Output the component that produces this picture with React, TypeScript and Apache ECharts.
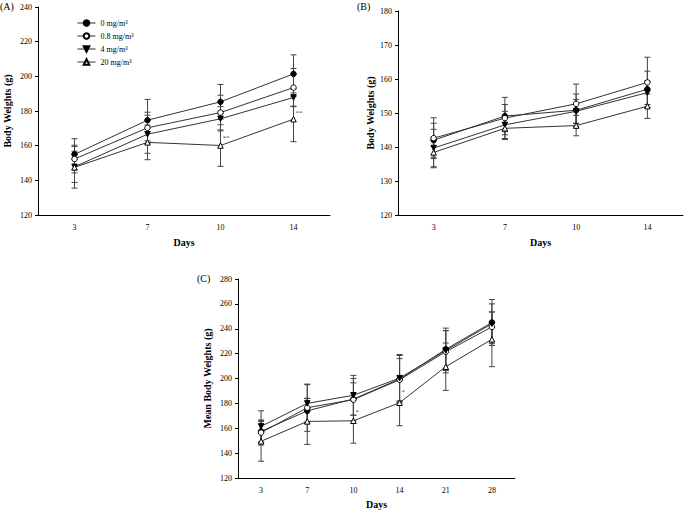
import React, { useEffect, useRef } from "react";
import * as echarts from "echarts";

const daysAB = ["3", "7", "10", "14"];
const daysC = ["3", "7", "10", "14", "21", "28"];
const seriesNames = ["0 mg/m³", "0.8 mg/m³", "4 mg/m³", "20 mg/m³"];

// Panel A
const aMean0 = [155, 174.7, 185.3, 201.4];
const aMean08 = [152.3, 170.3, 179.1, 193.5];
const aMean4 = [147.8, 166.6, 175.5, 187.8];
const aMean20 = [147.5, 161.9, 160.1, 175.3];
const aSd0 = [9, 12, 10, 11];
const aSd08 = [8, 9, 10, 11];
const aSd4 = [9, 11, 7, 5];
const aSd20 = [12, 10, 12, 13];
const annA = [[2, 164.5], [3, 179]];

// Panel B
const bMean0 = [142.0, 149.1, 150.8, 157.0];
const bMean08 = [142.6, 148.5, 152.7, 159.0];
const bMean4 = [139.7, 146.5, 150.5, 156.0];
const bMean20 = [138.4, 145.5, 146.3, 152.0];
const bSd0 = [5, 5.5, 4.8, 5.3];
const bSd08 = [6, 4, 5.8, 7.4];
const bSd4 = [5.5, 4, 3.5, 3.5];
const bSd20 = [4.5, 3.3, 3, 3.6];

// Panel C
const cMean0 = [157.5, 174, 183.5, 199.5, 223.5, 245];
const cMean08 = [156.5, 176.5, 183, 199, 221.5, 241.5];
const cMean4 = [161.5, 180, 186.5, 200.3, 222.5, 244];
const cMean20 = [149.5, 165.5, 166, 180.5, 209.5, 231.5];
const cSd0 = [9, 10, 13, 19, 17, 18.5];
const cSd08 = [10, 19, 17, 17, 17, 12];
const cSd4 = [12.5, 15, 16, 19, 16, 16];
const cSd20 = [16, 18.5, 18, 18.5, 19, 22];
const annC = [[2, 173], [3, 189]];

const FONT = "'Liberation Serif', 'Times New Roman', serif";

const markerStyles = [
  { symbol: "circle", rotate: 0, fill: "#000" },
  { symbol: "circle", rotate: 0, fill: "#fff" },
  { symbol: "triangle", rotate: 180, fill: "#000" },
  { symbol: "triangle", rotate: 0, fill: "#fff" },
];

function errRender(params: any, api: any) {
  const x = api.value(0);
  const lo = api.coord([x, api.value(1)]);
  const hi = api.coord([x, api.value(2)]);
  const w = 3;
  const style = { stroke: "#444", lineWidth: 1 };
  return {
    type: "group",
    children: [
      { type: "line", shape: { x1: lo[0], y1: lo[1], x2: hi[0], y2: hi[1] }, style },
      { type: "line", shape: { x1: lo[0] - w, y1: lo[1], x2: lo[0] + w, y2: lo[1] }, style },
      { type: "line", shape: { x1: hi[0] - w, y1: hi[1], x2: hi[0] + w, y2: hi[1] }, style },
    ],
  };
}

function panelSeries(idx: number, means: number[][], sds: number[][], ann: number[][] | null, annText: string) {
  const out: any[] = [];
  means.forEach((m, k) => {
    out.push({
      type: "custom",
      xAxisIndex: idx,
      yAxisIndex: idx,
      renderItem: errRender,
      encode: { x: 0, y: [1, 2] },
      data: m.map((v, i) => [i, v - sds[k][i], v + sds[k][i]]),
      z: 1,
    });
  });
  means.forEach((m, k) => {
    const ms = markerStyles[k];
    out.push({
      type: "line",
      name: seriesNames[k],
      xAxisIndex: idx,
      yAxisIndex: idx,
      data: m,
      symbol: ms.symbol,
      symbolRotate: ms.rotate,
      symbolSize: 5.5,
      showSymbol: true,
      lineStyle: { color: "#333", width: 1 },
      itemStyle: { color: ms.fill, borderColor: "#000", borderWidth: 1 },
      z: 3,
    });
  });
  if (ann) {
    out.push({
      type: "scatter",
      xAxisIndex: idx,
      yAxisIndex: idx,
      data: ann,
      symbolSize: 0,
      itemStyle: { color: "#000" },
      label: {
        show: true,
        position: "right",
        distance: 2,
        formatter: annText,
        fontSize: 7,
        fontFamily: FONT,
        color: "#000",
      },
      z: 4,
    });
  }
  return out;
}

function xAxisDef(idx: number, data: string[], gap: number) {
  return {
    type: "category",
    gridIndex: idx,
    data,
    boundaryGap: true,
    axisLine: { lineStyle: { color: "#000", width: 1 } },
    axisTick: { alignWithLabel: true, length: 3, lineStyle: { color: "#000" } },
    axisLabel: { fontSize: 8, fontFamily: FONT, color: "#000", margin: 8 },
    splitLine: { show: false },
    name: "Days",
    nameLocation: "middle",
    nameGap: gap,
    nameTextStyle: { fontSize: 10, fontWeight: "bold", fontFamily: FONT, color: "#000" },
  };
}

function yAxisDef(idx: number, min: number, max: number, interval: number, name: string, gap: number) {
  return {
    type: "value",
    gridIndex: idx,
    min,
    max,
    interval,
    axisLine: { show: true, lineStyle: { color: "#000", width: 1 } },
    axisTick: { show: true, length: 3, lineStyle: { color: "#000" } },
    axisLabel: { fontSize: 8, fontFamily: FONT, color: "#000", margin: 6 },
    splitLine: { show: false },
    name,
    nameLocation: "middle",
    nameGap: gap,
    nameTextStyle: { fontSize: 10, fontWeight: "bold", fontFamily: FONT, color: "#000" },
  };
}

export default function App() {
  const ref = useRef<HTMLDivElement>(null);
  useEffect(() => {
    if (!ref.current) return;
    const chart = echarts.init(ref.current, undefined, { renderer: "svg" });
    const option: any = {
      animation: false,
      backgroundColor: "#fff",
      color: ["#000"],
      textStyle: { color: "#000", fontFamily: FONT },
      grid: [
        { left: 38, top: 7, width: 292, height: 208 },
        { left: 398, top: 11, width: 285, height: 204 },
        { left: 238, top: 279, width: 277, height: 199 },
      ],
      legend: {
        data: seriesNames,
        orient: "vertical",
        left: 72,
        top: 14,
        itemWidth: 18,
        itemHeight: 7,
        itemGap: 5,
        lineStyle: { width: 1, color: "#333" },
        textStyle: { fontSize: 8, fontFamily: FONT, color: "#000" },
        selectedMode: false,
      },
      xAxis: [xAxisDef(0, daysAB, 22), xAxisDef(1, daysAB, 22), xAxisDef(2, daysC, 21)],
      yAxis: [
        yAxisDef(0, 120, 240, 20, "Body Weights (g)", 26),
        yAxisDef(1, 120, 180, 10, "Body Weights (g)", 23),
        yAxisDef(2, 120, 280, 20, "Mean Body Weights (g)", 26),
      ],
      graphic: [
        { type: "text", left: 0, top: 1, style: { text: "(A)", fontSize: 10, fontFamily: FONT, fill: "#000" } },
        { type: "text", left: 357, top: 1, style: { text: "(B)", fontSize: 10, fontFamily: FONT, fill: "#000" } },
        { type: "text", left: 197, top: 273, style: { text: "(C)", fontSize: 10, fontFamily: FONT, fill: "#000" } },
      ],
      series: [
        ...panelSeries(0, [aMean0, aMean08, aMean4, aMean20], [aSd0, aSd08, aSd4, aSd20], annA, "**"),
        ...panelSeries(1, [bMean0, bMean08, bMean4, bMean20], [bSd0, bSd08, bSd4, bSd20], null, ""),
        ...panelSeries(2, [cMean0, cMean08, cMean4, cMean20], [cSd0, cSd08, cSd4, cSd20], annC, "*"),
      ],
    };
    chart.setOption(option);
    return () => chart.dispose();
  }, []);
  return (
    <div
      ref={ref}
      style={{ position: "fixed", left: 0, top: 0, width: 685, height: 510, background: "#fff" }}
    />
  );
}
